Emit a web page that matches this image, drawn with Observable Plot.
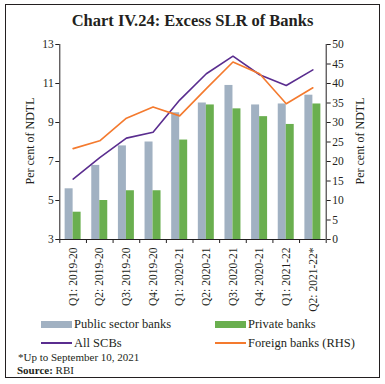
<!DOCTYPE html>
<html><head><meta charset="utf-8">
<script src="https://cdn.jsdelivr.net/npm/d3@7"></script>
<script src="https://cdn.jsdelivr.net/npm/@observablehq/plot@0.6"></script>
<style>
body{margin:0;width:385px;height:384px;position:relative;background:#fff;font-family:"Liberation Serif","DejaVu Serif",serif;color:#231f20;overflow:hidden}
.frame{position:absolute;left:5px;top:4px;width:373px;height:372px;border:1px solid #231f20;box-sizing:content-box}
.title{position:absolute;left:0;top:11px;width:385px;text-align:center;font-weight:bold;font-size:16.5px;white-space:nowrap}
#chart{position:absolute;left:0;top:0}
.ylab{position:absolute;font-size:12px;white-space:nowrap;transform:translate(-50%,-50%) rotate(-90deg)}
.leg{position:absolute;font-size:12.5px;white-space:nowrap;display:flex;align-items:center;height:16px}
.sw{display:inline-block;width:31px;height:7px;margin-right:2px}
.ln{display:inline-block;width:31px;height:2px;margin-right:2px}
.note{position:absolute;font-size:11px;white-space:nowrap}
</style></head>
<body>
<div class="frame"></div>
<div class="title">Chart IV.24: Excess SLR of Banks</div>
<div id="chart"></div>
<div class="ylab" style="left:30px;top:141px">Per cent of NDTL</div>
<div class="ylab" style="left:360px;top:141px">Per cent of NDTL</div>
<div class="leg" style="left:41px;top:316px"><span class="sw" style="background:#a1b1c2"></span>Public sector banks</div>
<div class="leg" style="left:215px;top:316px"><span class="sw" style="background:#6aaf4f"></span>Private banks</div>
<div class="leg" style="left:41px;top:335px"><span class="ln" style="background:#5a2d8f"></span>All SCBs</div>
<div class="leg" style="left:215px;top:335px"><span class="ln" style="background:#f47a2e"></span>Foreign banks (RHS)</div>
<div class="note" style="left:18px;top:351px">*Up to September 10, 2021</div>
<div class="note" style="left:17px;top:364px"><b>Source:</b> RBI</div>
<script>
const quarters = ["Q1: 2019-20","Q2: 2019-20","Q3: 2019-20","Q4: 2019-20","Q1: 2020-21","Q2: 2020-21","Q3: 2020-21","Q4: 2020-21","Q1: 2021-22","Q2: 2021-22*"];
const publicSector = [5.6, 6.8, 7.8, 8.0, 9.5, 10.0, 10.9, 9.9, 9.95, 10.4];
const privateBanks = [4.4, 5.0, 5.5, 5.5, 8.1, 9.9, 9.7, 9.3, 8.9, 9.95];
const allSCBs = [6.1, 7.2, 8.2, 8.5, 10.15, 11.5, 12.4, 11.45, 10.9, 11.7];
const foreignBanks = [23.3, 25.3, 31.1, 34.0, 31.7, 38.7, 45.5, 42.5, 34.8, 38.9];
const lhsTicks = [3, 5, 7, 9, 11, 13];
const rhsTicks = [0, 5, 10, 15, 20, 25, 30, 35, 40, 45, 50];

const rows = quarters.map((q, i) => ({i, q, pub: publicSector[i], pri: privateBanks[i], all: allSCBs[i], fgn: foreignBanks[i]}));
const toLeft = v => 3 + v / 5; // RHS 0–50 mapped onto LHS 3–13
const ink = "#231f20";
const chart = Plot.plot({
  width: 385, height: 322,
  marginTop: 44, marginBottom: 83, marginLeft: 59.3, marginRight: 59.3,
  x: {domain: [0, 10]},
  y: {domain: [3, 13]},
  style: {fontFamily: '"Liberation Serif","DejaVu Serif",serif', fontSize: "11.5px", color: ink, background: "transparent", overflow: "visible"},
  marks: [
    Plot.rect(rows, {x1: d => d.i + 0.2, x2: d => d.i + 0.5, y1: 3, y2: "pub", fill: "#a1b1c2"}),
    Plot.rect(rows, {x1: d => d.i + 0.5, x2: d => d.i + 0.8, y1: 3, y2: "pri", fill: "#6aaf4f"}),
    Plot.line(rows, {x: d => d.i + 0.5, y: "all", stroke: "#5a2d8f", strokeWidth: 1.6}),
    Plot.line(rows, {x: d => d.i + 0.5, y: d => toLeft(d.fgn), stroke: "#f47a2e", strokeWidth: 1.6}),
    Plot.ruleX([0, 10], {stroke: ink}),
    Plot.ruleY([3], {stroke: ink}),
    Plot.axisY({anchor: "left", ticks: lhsTicks, tickSize: 4, tickPadding: 2, label: null}),
    Plot.axisY({anchor: "right", ticks: rhsTicks.map(toLeft), tickFormat: d => Math.round((d - 3) * 5), tickSize: 4, tickPadding: 2, label: null}),
    Plot.axisX({ticks: d3.range(0, 11), tickSize: 4, tickFormat: () => "", label: null}),
    Plot.axisX({ticks: quarters.map((q, i) => i + 0.5), tickFormat: d => quarters[Math.floor(d)], tickSize: 0, tickRotate: -90, tickPadding: 8, label: null})
  ]
});
document.getElementById("chart").appendChild(chart);
</script>
</body></html>
